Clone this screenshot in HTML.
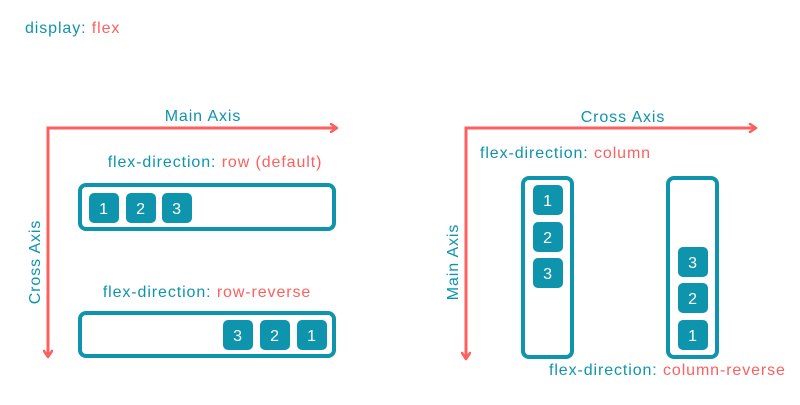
<!DOCTYPE html>
<html><head><style>
body{margin:0;background:#fff;}
svg text{font-family:"Liberation Sans",sans-serif;font-size:16px;letter-spacing:0.9px;}
</style></head><body>
<svg width="800" height="400" viewBox="0 0 800 400" xmlns="http://www.w3.org/2000/svg">
<defs>
<marker id="ah" markerWidth="10" markerHeight="10" refX="8" refY="5" orient="auto" markerUnits="userSpaceOnUse">
<path d="M2,1 L8,5 L2,9" fill="none" stroke="#fe5f5f" stroke-width="2.5" stroke-linecap="round" stroke-linejoin="round"/>
</marker>
</defs>
<g fill="#0e94ad">
<text x="25" y="33">display: <tspan fill="#fe5f5f">flex</tspan></text>
<text x="203" y="121" text-anchor="middle">Main Axis</text>
<text x="215" y="167" text-anchor="middle">flex-direction: <tspan fill="#fe5f5f">row (default)</tspan></text>
<text x="207" y="297" text-anchor="middle">flex-direction: <tspan fill="#fe5f5f">row-reverse</tspan></text>
<text transform="translate(40,262) rotate(-90)" text-anchor="middle">Cross Axis</text>
<text x="623" y="122" text-anchor="middle">Cross Axis</text>
<text x="480" y="158">flex-direction: <tspan fill="#fe5f5f">column</tspan></text>
<text transform="translate(458,262) rotate(-90)" text-anchor="middle">Main Axis</text>
<text x="549" y="375">flex-direction: <tspan fill="#fe5f5f">column-reverse</tspan></text>
</g>
<g stroke="#fe5f5f" stroke-width="3" fill="none">
<path d="M48,357 L48,128 L337,128" marker-end="url(#ah)"/>
<path d="M48,200 L48,357" marker-end="url(#ah)"/>
<path d="M466,359 L466,128 L756,128" marker-end="url(#ah)"/>
<path d="M466,200 L466,359" marker-end="url(#ah)"/>
</g>
<g stroke="#0e94ad" stroke-width="4" fill="none">
<rect x="80" y="185" width="254" height="44" rx="6"/>
<rect x="80" y="313" width="254" height="43" rx="6"/>
<rect x="523" y="178" width="49" height="179" rx="6"/>
<rect x="668" y="178" width="49" height="179" rx="6"/>
</g>
<g fill="#0e94ad">
<rect x="89" y="193" width="30" height="30" rx="5"/>
<rect x="126" y="193" width="30" height="30" rx="5"/>
<rect x="162" y="193" width="30" height="30" rx="5"/>
<rect x="223" y="320" width="30" height="30" rx="5"/>
<rect x="260" y="320" width="30" height="30" rx="5"/>
<rect x="297" y="320" width="30" height="30" rx="5"/>
<rect x="533" y="185" width="30" height="30" rx="5"/>
<rect x="533" y="222" width="30" height="30" rx="5"/>
<rect x="533" y="258" width="30" height="30" rx="5"/>
<rect x="678" y="247" width="30" height="30" rx="5"/>
<rect x="678" y="283" width="30" height="30" rx="5"/>
<rect x="678" y="320" width="30" height="30" rx="5"/>
</g>
<g fill="#fff" text-anchor="middle" style="letter-spacing:0">
<text x="104" y="214">1</text><text x="141" y="214">2</text><text x="177" y="214">3</text>
<text x="238" y="341">3</text><text x="275" y="341">2</text><text x="312" y="341">1</text>
<text x="548" y="206">1</text><text x="548" y="243">2</text><text x="548" y="279">3</text>
<text x="693" y="268">3</text><text x="693" y="304">2</text><text x="693" y="341">1</text>
</g>
</svg>
</body></html>
